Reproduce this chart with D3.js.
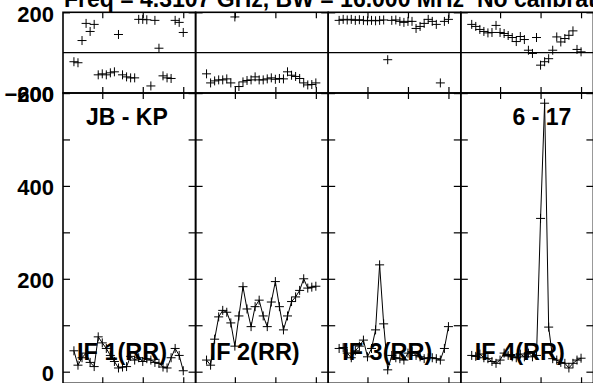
<!DOCTYPE html>
<html>
<head>
<meta charset="utf-8">
<script src="https://cdn.jsdelivr.net/npm/d3@7"></script>
<style>
  body { margin: 0; background: #fff; }
  svg { display: block; }
  text { font-family: "Liberation Sans", Arial, Helvetica, sans-serif; font-weight: bold; fill: #000; }
</style>
</head>
<body>
<div id="possm"></div>
<script>
// data (channels 3..30 of each IF)
const channels = [3,4,5,6,7,8,9,10,11,12,13,14,15,16,17,18,19,20,21,22,23,24,25,26,27,28,29,30];
const ifLabels = ["IF 1(RR)", "IF 2(RR)", "IF 3(RR)", "IF 4(RR)"];
const titleText = "Freq = 4.3107 GHz, BW = 16.000 MHz  No calibration";
const baselineText = "JB - KP";
const timeText = "6 - 17";

const ampIF1 = [45,14,30,40,20,11,75,62,50,35,22,8,10,11,33,25,30,22,28,25,20,18,10,8,30,50,35,2];
const ampIF2 = [25,14,70,118,132,128,105,55,120,183,135,97,140,154,120,97,150,194,140,90,120,151,161,175,200,180,182,184];
const ampIF3 = [50,52,40,30,45,55,68,32,50,90,230,103,4,35,30,28,25,40,43,35,32,28,30,30,28,25,50,97];
const ampIF4 = [35,33,38,30,28,22,18,25,40,35,32,30,38,32,40,32,35,330,578,96,28,25,20,18,8,18,25,29];

const phaseIF1 = [-45,-50,60,145,105,140,-110,-105,-110,-100,-95,90,-110,-120,-125,-125,165,165,163,-165,160,22,-115,-125,-128,160,150,100];
const phaseIF2 = [-105,-150,-140,-135,-135,-130,-150,177,-168,-145,-138,-135,-120,-135,-135,-130,-125,-132,-128,-130,-95,-112,-118,-128,-150,-160,-158,-150];
const phaseIF3 = [160,165,162,165,160,163,160,158,160,158,160,162,-35,160,162,155,150,155,155,120,130,145,165,155,140,-150,155,165];
const phaseIF4 = [140,130,115,105,98,100,135,100,95,85,75,55,80,65,12,-4,75,-62,-45,-30,12,78,53,70,86,108,16,4];

const ampSeries = [ampIF1, ampIF2, ampIF3, ampIF4];
const phaseSeries = [phaseIF1, phaseIF2, phaseIF3, phaseIF4];

const chanTicks = [10, 20, 30];
const ampTicks = [0, 100, 200, 300, 400, 500, 600];
const ampLabels = [0, 200, 400, 600];
const phaseLabels = [-200, 200];

// layout
const W = 593, H = 383;
const left0 = 63, panelW = 132.6;
const phaseTop = 12.3, phaseBot = 93, ampBot = 383.3;

const svg = d3.select("#possm").append("svg")
  .attr("width", W).attr("height", H);

const x = d3.scaleLinear().domain([0.3, 33.05]).range([0, panelW]);
const yAmp = d3.scaleLinear().domain([-25, 600]).range([ampBot, phaseBot]);
const yPh = d3.scaleLinear().domain([-200, 200]).range([phaseBot, phaseTop]);

// title (clipped at the top like the original)
svg.append("text")
  .attr("x", 64).attr("y", 6.5)
  .attr("font-size", 23)
  .style("white-space", "pre")
  .text(titleText);

function cross(g, cx, cy) {
  g.append("path")
    .attr("d", `M${cx - 4.5},${cy}H${cx + 4.5}M${cx},${cy - 4.5}V${cy + 4.5}`)
    .attr("stroke", "#000").attr("stroke-width", 1).attr("fill", "none");
}

function tidy(sel) {
  sel.select(".domain").remove();
  sel.selectAll(".tick line").attr("stroke", "#000").attr("stroke-width", 1.2);
  sel.selectAll(".tick text").remove();
}

ampSeries.forEach(function(amp, i) {
  const px = left0 + i * panelW;
  const g = svg.append("g").attr("transform", `translate(${px},0)`);

  // ticks on all sides pointing inward, both sub-panels
  [[phaseTop, phaseBot, yPh, [-200, 200]], [phaseBot, ampBot, yAmp, ampTicks]].forEach(function(p) {
    g.append("g").attr("transform", `translate(0,${p[0]})`)
      .call(d3.axisBottom(x).tickValues(chanTicks).tickSize(6)).call(tidy);
    g.append("g").attr("transform", `translate(0,${p[1]})`)
      .call(d3.axisTop(x).tickValues(chanTicks).tickSize(6)).call(tidy);
    g.append("g")
      .call(d3.axisRight(p[2]).tickValues(p[3]).tickSize(7)).call(tidy);
    g.append("g").attr("transform", `translate(${panelW},0)`)
      .call(d3.axisLeft(p[2]).tickValues(p[3]).tickSize(7)).call(tidy);
  });

  // frames
  g.append("rect").attr("x", 0).attr("y", phaseTop)
    .attr("width", panelW).attr("height", phaseBot - phaseTop)
    .attr("fill", "none").attr("stroke", "#000").attr("stroke-width", 1.6);
  g.append("rect").attr("x", 0).attr("y", phaseBot)
    .attr("width", panelW).attr("height", ampBot - phaseBot)
    .attr("fill", "none").attr("stroke", "#000").attr("stroke-width", 1.6);
  // zero phase line
  g.append("line")
    .attr("x1", 0).attr("x2", panelW)
    .attr("y1", yPh(0)).attr("y2", yPh(0))
    .attr("stroke", "#000").attr("stroke-width", 1.3);

  // phase crosses
  phaseSeries[i].forEach(function(v, k) { cross(g, x(channels[k]), yPh(v)); });

  // amplitude line + crosses
  const line = d3.line()
    .x(function(d, k) { return x(channels[k]); })
    .y(function(d) { return yAmp(d); });
  g.append("path").datum(amp)
    .attr("d", line)
    .attr("fill", "none").attr("stroke", "#000").attr("stroke-width", 1);
  amp.forEach(function(v, k) { cross(g, x(channels[k]), yAmp(v)); });

  // IF label
  g.append("text")
    .attr("x", 14).attr("y", 360)
    .attr("font-size", 23.5)
    .text(ifLabels[i]);
});

// y labels on the left
const ampAxis = svg.append("g").attr("transform", `translate(${left0},0)`)
  .call(d3.axisLeft(yAmp).tickValues(ampLabels).tickSize(0).tickPadding(9));
const phAxis = svg.append("g").attr("transform", `translate(${left0},0)`)
  .call(d3.axisLeft(yPh).tickValues(phaseLabels).tickSize(0).tickPadding(9).tickFormat(d3.format("d")));
[ampAxis, phAxis].forEach(function(a) {
  a.select(".domain").remove();
  a.selectAll(".tick text")
    .attr("font-size", 22).attr("font-family", null).attr("fill", "#000")
    .attr("dy", "0.4em");
});

// panel annotations
svg.append("text")
  .attr("x", left0 + 23).attr("y", 125)
  .attr("font-size", 23)
  .text(baselineText);
svg.append("text")
  .attr("x", left0 + 4 * panelW - 22).attr("y", 125)
  .attr("text-anchor", "end")
  .attr("font-size", 23)
  .text(timeText);
</script>
</body>
</html>
